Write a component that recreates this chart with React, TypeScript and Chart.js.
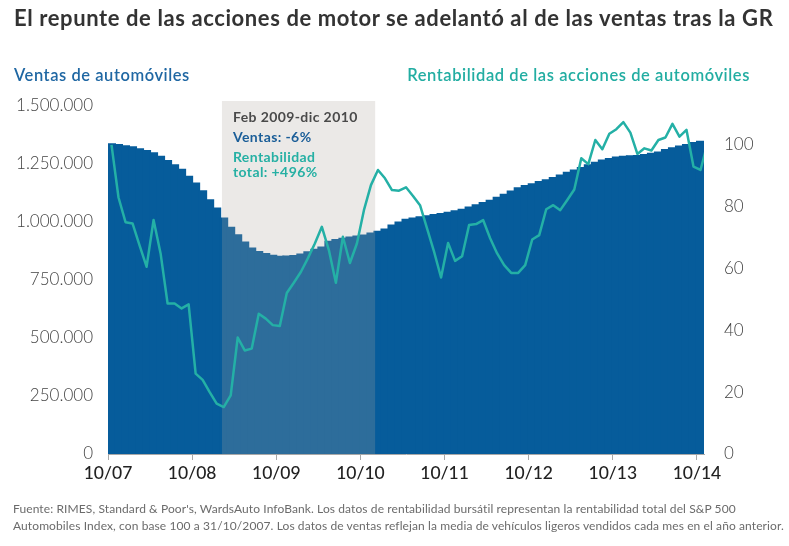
import React, { useEffect, useRef } from "react";
import { Chart, registerables } from "chart.js";

Chart.register(...registerables);

// Monthly light-vehicle sales (12-month average), Oct 2007 – Oct 2014
const salesValues = [
  1335000, 1332000, 1327000, 1322000, 1314000, 1306000, 1296000, 1281000, 1263000, 1245000,
  1225000, 1195000, 1166000, 1133000, 1094000, 1058000, 1015000, 975000, 943000, 912000,
  886000, 871000, 862000, 854000, 850000, 851000, 853000, 860000, 870000, 880000,
  890000, 915000, 922000, 928000, 933000, 938000, 942000, 950000, 958000, 968000,
  985000, 998000, 1010000, 1015000, 1020000, 1025000, 1030000, 1035000, 1040000, 1046000,
  1053000, 1062000, 1072000, 1082000, 1092000, 1105000, 1117000, 1132000, 1145000, 1155000,
  1163000, 1172000, 1180000, 1190000, 1200000, 1212000, 1222000, 1233000, 1245000, 1255000,
  1265000, 1272000, 1278000, 1281000, 1283000, 1285000, 1289000, 1294000, 1300000, 1310000,
  1318000, 1325000, 1332000, 1340000, 1346000,
];

// S&P 500 Automobiles total return index (base 100 = 31/10/2007)
const returnValues = [
  100, 83, 75, 74.6, 67.5, 60.6, 75.7, 64.9, 48.7, 48.7,
  47.1, 48.4, 26, 24, 20, 16.3, 15.2, 19, 37.7, 33.5,
  34.1, 45.4, 43.8, 41.7, 41.4, 52.1, 55.4, 58.9, 63.3, 68.1,
  73.5, 66, 55.4, 70.3, 61.8, 68.1, 78.9, 87, 91.9, 89.2,
  85.4, 85.2, 86.3, 83.5, 80.5, 73, 65.5, 57.1, 68.3, 62.5,
  64, 74.1, 74.4, 75.7, 69.8, 64.9, 61.1, 58.6, 58.6, 61.1,
  69.4, 70.8, 79.2, 80.5, 78.9, 82.2, 85.6, 95.7, 93.8, 101.6,
  98.6, 103.6, 105.1, 107.4, 104, 97.1, 98.9, 98.2, 101.6, 102.4,
  106.8, 102.7, 104.9, 93, 91.9, 100.5,
];

const xTickMonths = [0, 12, 24, 36, 48, 60, 72, 84];
const xTickLabels = ["10/07", "10/08", "10/09", "10/10", "10/11", "10/12", "10/13", "10/14"];
const leftTickValues = [0, 250000, 500000, 750000, 1000000, 1250000, 1500000];
const rightTickValues = [0, 20, 40, 60, 80, 100];

const shadeFrom = 16.25; // Feb 2009
const shadeTo = 38.1; // Dec 2010
const shadeLines = [
  { text: "Feb 2009-dic 2010", color: "#4a4a4a", dy: 15.7 },
  { text: "Ventas: -6%", color: "#1b5e98", dy: 35.7 },
  { text: "Rentabilidad", color: "#26b0a4", dy: 55.7 },
  { text: "total: +496%", color: "#26b0a4", dy: 71.3 },
];

const BLUE = "#065c9b";
const TEAL = "#24b0a6";
const FONT = "Lato, 'Open Sans', sans-serif";

const fmtThousands = (v: number) =>
  Math.round(v).toString().replace(/\B(?=(\d{3})+(?!\d))/g, ".");

const shadePlugin = {
  id: "shadeBox",
  afterDatasetDraw(chart: any, args: any) {
    if (args.index !== 0) return;
    const { ctx, chartArea, scales } = chart;
    const x0 = scales.x.getPixelForValue(shadeFrom);
    const x1 = scales.x.getPixelForValue(shadeTo);
    const top = chartArea.top - 5;
    ctx.save();
    ctx.fillStyle = "rgba(172,163,155,0.24)";
    ctx.fillRect(x0, top, x1 - x0, chartArea.bottom - top);
    ctx.font = `bold 14px ${FONT}`;
    try {
      (ctx as any).letterSpacing = "0.4px";
    } catch (e) {}
    ctx.textAlign = "left";
    ctx.textBaseline = "alphabetic";
    for (const l of shadeLines) {
      ctx.fillStyle = l.color;
      ctx.fillText(l.text, x0 + 11, chartArea.top + l.dy);
    }
    ctx.restore();
  },
};

export default function App() {
  const canvasRef = useRef<HTMLCanvasElement | null>(null);

  useEffect(() => {
    const canvas = canvasRef.current;
    if (!canvas) return;
    const chart = new Chart(canvas, {
      type: "bar",
      data: {
        datasets: [
          {
            type: "bar",
            label: "Ventas de automóviles",
            data: salesValues.map((v, i) => ({ x: i + 0.5, y: v })),
            backgroundColor: BLUE,
            borderWidth: 0,
            inflateAmount: 1,
            barPercentage: 1,
            categoryPercentage: 1,
            xAxisID: "x",
            yAxisID: "y",
            order: 1,
          } as any,
          {
            type: "line",
            label: "Rentabilidad",
            data: returnValues.map((v, i) => ({ x: i + 0.5, y: v })),
            borderColor: TEAL,
            borderWidth: 2.5,
            pointRadius: 0,
            tension: 0,
            borderJoinStyle: "round",
            fill: false,
            xAxisID: "x",
            yAxisID: "y2",
            order: 0,
          } as any,
        ],
      },
      options: {
        responsive: false,
        animation: false,
        layout: { padding: { top: 106, bottom: 62, left: 0, right: 0 } },
        plugins: {
          legend: { display: false },
          tooltip: { enabled: false },
          title: { display: false },
        },
        scales: {
          x: {
            type: "linear",
            min: 0,
            max: 85,
            offset: false,
            afterBuildTicks: (s: any) => {
              s.ticks = xTickMonths.map((v) => ({ value: v }));
            },
            afterFit: (s: any) => {
              s.height = 30;
            },
            ticks: {
              autoSkip: false,
              maxRotation: 0,
              padding: 3,
              color: "#222",
              font: { family: FONT, size: 17.5, weight: "500" },
              callback: (_v: any, i: number) => xTickLabels[i],
            },
            grid: {
              display: true,
              drawOnChartArea: false,
              drawTicks: true,
              tickLength: 6,
              color: "#a8a8a8",
              offset: false,
            },
            border: { display: true, color: "#a8a8a8", width: 1 },
          },
          y: {
            type: "linear",
            position: "left",
            min: 0,
            max: 1500000,
            afterBuildTicks: (s: any) => {
              s.ticks = leftTickValues.map((v) => ({ value: v }));
            },
            afterFit: (s: any) => {
              s.width = 108;
            },
            ticks: {
              padding: 15,
              color: "#444",
              font: { family: FONT, size: 17, weight: "300" },
              callback: (v: any) => fmtThousands(Number(v)),
            },
            grid: { display: false, drawTicks: false },
            border: { display: false },
          },
          y2: {
            type: "linear",
            position: "right",
            min: 0,
            max: 112.6,
            afterBuildTicks: (s: any) => {
              s.ticks = rightTickValues.map((v) => ({ value: v }));
            },
            afterFit: (s: any) => {
              s.width = 85;
            },
            ticks: {
              padding: 20,
              color: "#444",
              font: { family: FONT, size: 17, weight: "300" },
              callback: (v: any) => String(v),
            },
            grid: { display: false, drawTicks: false },
            border: { display: false },
          },
        },
      } as any,
      plugins: [shadePlugin],
    });
    return () => chart.destroy();
  }, []);

  return (
    <div
      style={{
        position: "fixed",
        left: 0,
        top: 0,
        width: 789,
        height: 546,
        background: "#fff",
        fontFamily: FONT,
        overflow: "hidden",
      }}
    >
      <canvas
        ref={canvasRef}
        width={789}
        height={546}
        style={{ position: "absolute", left: 0, top: 0, width: 789, height: 546 }}
      />
      <div
        style={{
          position: "absolute",
          left: 14,
          top: 7,
          fontSize: 22,
          lineHeight: "22px",
          fontWeight: 700,
          letterSpacing: "0.6px",
          color: "#333",
          whiteSpace: "nowrap",
        }}
      >
        El repunte de las acciones de motor se adelantó al de las ventas tras la GR
      </div>
      <div
        style={{
          position: "absolute",
          left: 14,
          top: 67,
          fontSize: 16.5,
          lineHeight: "17px",
          fontWeight: 600,
          letterSpacing: "0.55px",
          color: "#1f67a3",
          whiteSpace: "nowrap",
        }}
      >
        Ventas de automóviles
      </div>
      <div
        style={{
          position: "absolute",
          right: 39,
          top: 67,
          fontSize: 16.5,
          lineHeight: "17px",
          fontWeight: 600,
          letterSpacing: "0.58px",
          color: "#22ada2",
          whiteSpace: "nowrap",
          textAlign: "right",
        }}
      >
        Rentabilidad de las acciones de automóviles
      </div>
      <div
        style={{
          position: "absolute",
          left: 13,
          top: 500,
          fontSize: 12,
          lineHeight: "17px",
          letterSpacing: "0.1px",
          color: "#6b6b6b",
          whiteSpace: "nowrap",
        }}
      >
        <div>
          Fuente: RIMES, Standard &amp; Poor's, WardsAuto InfoBank. Los datos de rentabilidad bursátil representan la rentabilidad total del S&amp;P 500
        </div>
        <div>
          Automobiles Index, con base 100 a 31/10/2007. Los datos de ventas reflejan la media de vehículos ligeros vendidos cada mes en el año anterior.
        </div>
      </div>
    </div>
  );
}
